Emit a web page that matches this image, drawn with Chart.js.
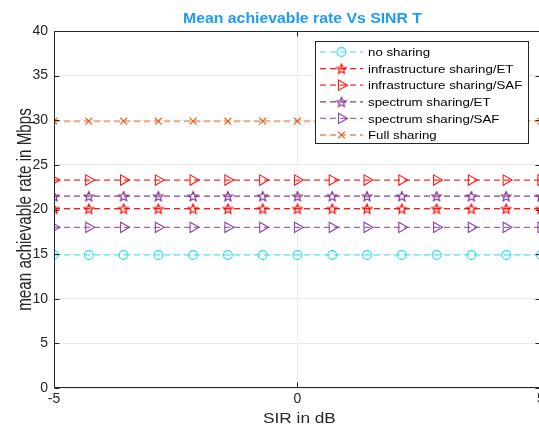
<!DOCTYPE html>
<html>
<head>
<meta charset="utf-8">
<script src="https://cdn.jsdelivr.net/npm/chart.js@4/dist/chart.umd.min.js"></script>
<style>
  html, body { margin: 0; padding: 0; background: #ffffff; overflow: hidden; }
  #wrap { position: relative; width: 548px; height: 432px; }
</style>
</head>
<body>
<div id="wrap"><canvas id="c"></canvas></div>
<script>
// SIR values (dB) at which the mean rate was evaluated
const sirDb = [-5, -4.286, -3.571, -2.857, -2.143, -1.429, -0.714, 0, 0.714, 1.429, 2.143, 2.857, 3.571, 4.286, 5];

// Mean achievable rate (Mbps) per sharing scheme
const noSharing   = [14.9, 14.9, 14.9, 14.9, 14.9, 14.9, 14.9, 14.9, 14.9, 14.9, 14.9, 14.9, 14.9, 14.9, 14.9];
const infraET     = [20.1, 20.1, 20.1, 20.1, 20.1, 20.1, 20.1, 20.1, 20.1, 20.1, 20.1, 20.1, 20.1, 20.1, 20.1];
const infraSAF    = [23.3, 23.3, 23.3, 23.3, 23.3, 23.3, 23.3, 23.3, 23.3, 23.3, 23.3, 23.3, 23.3, 23.3, 23.3];
const spectrumET  = [21.5, 21.5, 21.5, 21.5, 21.5, 21.5, 21.5, 21.5, 21.5, 21.5, 21.5, 21.5, 21.5, 21.5, 21.5];
const spectrumSAF = [18.0, 18.0, 18.0, 18.0, 18.0, 18.0, 18.0, 18.0, 18.0, 18.0, 18.0, 18.0, 18.0, 18.0, 18.0];
const fullSharing = [29.9, 29.9, 29.9, 29.9, 29.9, 29.9, 29.9, 29.9, 29.9, 29.9, 29.9, 29.9, 29.9, 29.9, 29.9];

const seriesNames = ['no sharing', 'infrastructure sharing/ET', 'infrastructure sharing/SAF',
                     'spectrum sharing/ET', 'spectrum sharing/SAF', 'Full sharing'];

const xTicks = [-5, 0, 5];
const yTicks = [0, 5, 10, 15, 20, 25, 30, 35, 40];

const chartTitle = 'Mean achievable rate Vs SINR T';
const xTitle = 'SIR in dB';
const yTitle = 'mean achievable rate in Mbps';

const FONT = '"Liberation Sans", Arial, sans-serif';

// Outlined five-pointed star used as a marker
function starMarker(color, r) {
  const size = Math.ceil(r * 2 + 4);
  const cv = document.createElement('canvas');
  cv.width = size; cv.height = size;
  const g = cv.getContext('2d');
  const c = size / 2;
  g.beginPath();
  for (let i = 0; i < 10; i++) {
    const rad = (i % 2 === 0) ? r : r * 0.45;
    const a = -Math.PI / 2 + i * Math.PI / 5;
    const px = c + rad * Math.cos(a), py = c + 0.6 + rad * Math.sin(a);
    if (i === 0) g.moveTo(px, py); else g.lineTo(px, py);
  }
  g.closePath();
  g.strokeStyle = color;
  g.lineWidth = 1.2;
  g.stroke();
  return cv;
}

function toPoints(arr) { return arr.map((v, i) => ({ x: sirDb[i], y: v })); }

const dash = [6, 4];
const datasets = [
  { label: seriesNames[0], data: toPoints(noSharing), borderColor: '#30e6ee', pointBorderColor: '#22e2ec',
    pointStyle: 'circle', pointRadius: 4.4, pointRotation: 0, borderWidth: 1.2 },
  { label: seriesNames[1], data: toPoints(infraET), borderColor: '#ff1a1a', pointBorderColor: '#ff0000',
    pointStyle: starMarker('#ff0000', 5), pointRadius: 5, pointRotation: 0, borderWidth: 1.2 },
  { label: seriesNames[2], data: toPoints(infraSAF), borderColor: '#ff2a2a', pointBorderColor: '#ff1a1a',
    pointStyle: 'triangle', pointRadius: 6, pointRotation: 90, borderWidth: 1.2 },
  { label: seriesNames[3], data: toPoints(spectrumET), borderColor: '#8a3a9e', pointBorderColor: '#7e2f8e',
    pointStyle: starMarker('#7e2f8e', 5), pointRadius: 5, pointRotation: 0, borderWidth: 1.2 },
  { label: seriesNames[4], data: toPoints(spectrumSAF), borderColor: '#a466bb', pointBorderColor: '#8e44ad',
    pointStyle: 'triangle', pointRadius: 6, pointRotation: 90, borderWidth: 1.2 },
  { label: seriesNames[5], data: toPoints(fullSharing), borderColor: '#f2a883', pointBorderColor: '#e8601c',
    pointStyle: 'crossRot', pointRadius: 4.8, pointRotation: 0, borderWidth: 2 }
].map(d => Object.assign(d, {
  borderDash: dash,
  pointBackgroundColor: 'rgba(0,0,0,0)',
  pointBorderWidth: 1.1,
  pointHoverRadius: d.pointRadius,
  fill: false,
  tension: 0
}));

// Text drawn with an independent horizontal / vertical glyph scale
function drawText(ctx, text, x, y, opts) {
  ctx.save();
  ctx.translate(x, y);
  if (opts.rotate) ctx.rotate(opts.rotate);
  ctx.scale(opts.sx || 1, opts.sy || 1);
  ctx.font = opts.font;
  ctx.fillStyle = opts.color;
  ctx.textAlign = opts.align || 'left';
  ctx.textBaseline = 'alphabetic';
  ctx.fillText(text, 0, 0);
  ctx.restore();
}

// Axes box, inward tick marks, titles and legend
const decorations = {
  id: 'decorations',
  afterDatasetsDraw(chart) {
    const { ctx, chartArea: a, scales } = chart;
    ctx.save();
    ctx.strokeStyle = '#262626';
    ctx.lineWidth = 1;
    const L = Math.round(a.left) + 0.5, R = Math.round(a.right) - 0.5;
    const T = Math.round(a.top) + 0.5, B = Math.round(a.bottom) - 0.5;
    ctx.beginPath();
    ctx.moveTo(L, T); ctx.lineTo(R, T); ctx.lineTo(R, B); ctx.lineTo(L, B); ctx.closePath();
    ctx.stroke();
    const tl = 5;
    ctx.beginPath();
    xTicks.forEach(v => {
      const px = Math.round(scales.x.getPixelForValue(v)) + 0.5;
      ctx.moveTo(px, B); ctx.lineTo(px, B - tl);
      ctx.moveTo(px, T); ctx.lineTo(px, T + tl);
    });
    yTicks.forEach(v => {
      const py = Math.round(scales.y.getPixelForValue(v)) + 0.5;
      ctx.moveTo(L, py); ctx.lineTo(L + tl, py);
      ctx.moveTo(R, py); ctx.lineTo(R - tl, py);
    });
    ctx.stroke();

    // chart and axis titles
    drawText(ctx, chartTitle, 302.5, 23, { font: 'bold 14.5px ' + FONT, color: '#1e9cf2', align: 'center', sx: 1.09 });
    drawText(ctx, xTitle, (a.left + a.right) / 2 + 2, 423, { font: '14px ' + FONT, color: '#262626', align: 'center', sx: 1.23 });
    drawText(ctx, yTitle, 30.5, (a.top + a.bottom) / 2, { font: '15.2px ' + FONT, color: '#262626', align: 'center', rotate: -Math.PI / 2, sy: 1.3 });

    // legend
    const lx = 315.5, ly = 41.5, lw = 213, lh = 102;
    ctx.fillStyle = '#ffffff';
    ctx.fillRect(lx, ly, lw, lh);
    ctx.strokeStyle = '#262626';
    ctx.strokeRect(lx, ly, lw, lh);
    chart.data.datasets.forEach((ds, i) => {
      const y = 52 + i * 16.6;
      ctx.save();
      ctx.strokeStyle = ds.borderColor;
      ctx.lineWidth = ds.borderWidth;
      ctx.setLineDash(ds.borderDash);
      ctx.beginPath();
      ctx.moveTo(320, y); ctx.lineTo(363, y);
      ctx.stroke();
      ctx.restore();
      ctx.save();
      ctx.strokeStyle = ds.pointBorderColor;
      ctx.fillStyle = 'rgba(0,0,0,0)';
      ctx.lineWidth = ds.pointBorderWidth;
      Chart.helpers.drawPoint(ctx, {
        pointStyle: ds.pointStyle, rotation: ds.pointRotation, radius: ds.pointRadius, borderWidth: ds.pointBorderWidth
      }, 341.5, y);
      ctx.restore();
      drawText(ctx, ds.label, 368, y + 4.2, { font: '11.5px ' + FONT, color: '#000000', sx: 1.155 });
    });
    ctx.restore();
  }
};

new Chart(document.getElementById('c'), {
  type: 'line',
  data: { datasets },
  options: {
    responsive: true,
    maintainAspectRatio: false,
    animation: false,
    events: [],
    layout: { padding: { top: 31, left: 0, right: 0, bottom: 0 } },
    plugins: { legend: { display: false }, title: { display: false }, tooltip: { enabled: false } },
    scales: {
      x: {
        type: 'linear', min: -5, max: 5,
        afterBuildTicks: s => { s.ticks = xTicks.map(v => ({ value: v })); },
        ticks: { color: '#262626', font: { family: FONT, size: 14 }, padding: 3, maxRotation: 0 },
        grid: { color: '#ebebeb', lineWidth: 1, drawTicks: false },
        border: { display: false },
        afterFit: s => { s.height = 44; }
      },
      y: {
        min: 0, max: 40,
        afterBuildTicks: s => { s.ticks = yTicks.map(v => ({ value: v })); },
        ticks: { color: '#262626', font: { family: FONT, size: 14 }, padding: 6 },
        grid: { color: '#ebebeb', lineWidth: 1, drawTicks: false },
        border: { display: false },
        afterFit: s => { s.width = 54; }
      }
    }
  },
  plugins: [decorations]
});
</script>
</body>
</html>
